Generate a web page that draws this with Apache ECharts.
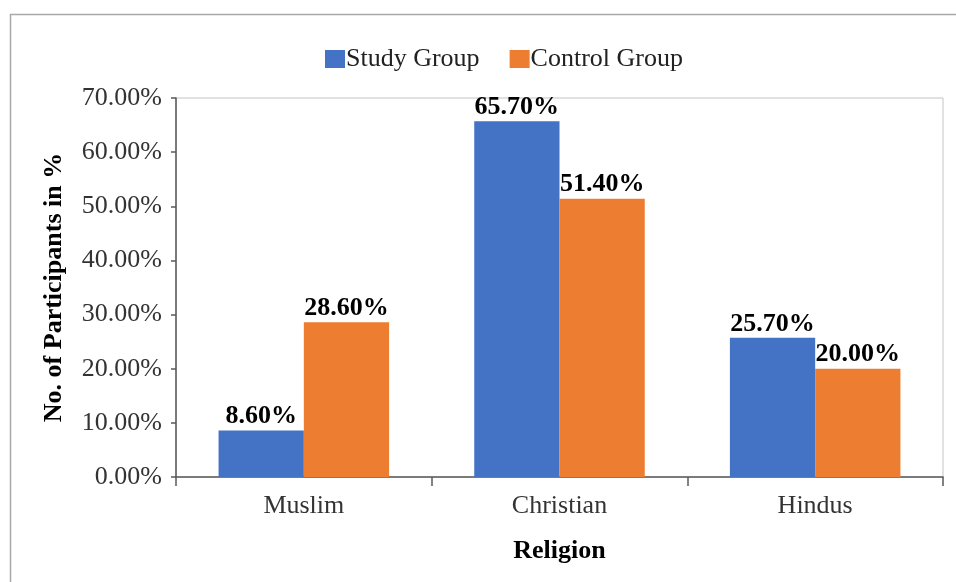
<!DOCTYPE html>
<html>
<head>
<meta charset="utf-8">
<title>Religion of participants</title>
<script src="https://cdn.jsdelivr.net/npm/echarts@6/dist/echarts.min.js"></script>
<style>
  html, body { margin: 0; padding: 0; background: #ffffff; }
  #chart { width: 956px; height: 582px; }
</style>
</head>
<body>
<div id="chart"></div>
<script>
// Religion categories on the x axis
const categories = ['Muslim', 'Christian', 'Hindus'];
// Share of participants (%) in each group
const studyGroup = [8.6, 65.7, 25.7];
const controlGroup = [28.6, 51.4, 20.0];
// Value axis range and step (%)
const yMin = 0;
const yMax = 70;
const yStep = 10;

const FONT = '"Liberation Serif", "Times New Roman", serif';
const FS = 26;
const pct = v => Number(v).toFixed(2) + '%';

const chart = echarts.init(document.getElementById('chart'), null, { renderer: 'canvas' });

const labelStyle = {
  show: true,
  position: 'top',
  distance: 1,
  fontFamily: FONT,
  fontSize: FS,
  fontWeight: 'bold',
  color: '#000000',
  formatter: p => pct(p.value)
};

chart.setOption({
  animation: false,
  backgroundColor: '#ffffff',
  graphic: [{
    type: 'rect',
    silent: true,
    shape: { x: 10.5, y: 14.5, width: 1000, height: 1000 },
    style: { fill: 'none', stroke: '#a9a9a9', lineWidth: 1.5 }
  }],
  legend: {
    left: 320,
    top: 41,
    itemWidth: 20,
    itemHeight: 18,
    itemGap: 30,
    icon: 'rect',
    textStyle: { fontFamily: FONT, fontSize: FS, color: '#222222', padding: [0, 0, 0, -4] },
    data: ['Study Group', 'Control Group']
  },
  grid: {
    left: 176,
    top: 98,
    right: 13,
    bottom: 105,
    show: true,
    borderColor: '#c4c4c4',
    borderWidth: 1,
    containLabel: false
  },
  xAxis: {
    type: 'category',
    data: categories,
    name: 'Religion',
    nameLocation: 'middle',
    nameGap: 61,
    nameTextStyle: { fontFamily: FONT, fontSize: FS, fontWeight: 'bold', color: '#000000' },
    axisLine: { lineStyle: { color: '#595959', width: 1.5 } },
    axisTick: { show: true, length: 9, lineStyle: { color: '#595959', width: 1.5 } },
    axisLabel: { fontFamily: FONT, fontSize: FS, color: '#333333', margin: 16 }
  },
  yAxis: {
    type: 'value',
    min: yMin,
    max: yMax,
    interval: yStep,
    name: 'No. of Participants in %',
    nameLocation: 'middle',
    nameGap: 109,
    nameTextStyle: { fontFamily: FONT, fontSize: FS, fontWeight: 'bold', color: '#000000' },
    axisLine: { show: true, lineStyle: { color: '#595959', width: 1.5 } },
    axisTick: { show: true, length: 5, lineStyle: { color: '#595959', width: 1.5 } },
    splitLine: { show: false },
    axisLabel: { fontFamily: FONT, fontSize: FS, color: '#333333', margin: 14, formatter: v => pct(v) }
  },
  series: [
    {
      name: 'Study Group',
      type: 'bar',
      data: studyGroup,
      barGap: '0%',
      barCategoryGap: '33.3%',
      itemStyle: { color: '#4472C4' },
      label: labelStyle
    },
    {
      name: 'Control Group',
      type: 'bar',
      data: controlGroup,
      barGap: '0%',
      barCategoryGap: '33.3%',
      itemStyle: { color: '#ED7D31' },
      label: labelStyle
    }
  ]
});
</script>
</body>
</html>
